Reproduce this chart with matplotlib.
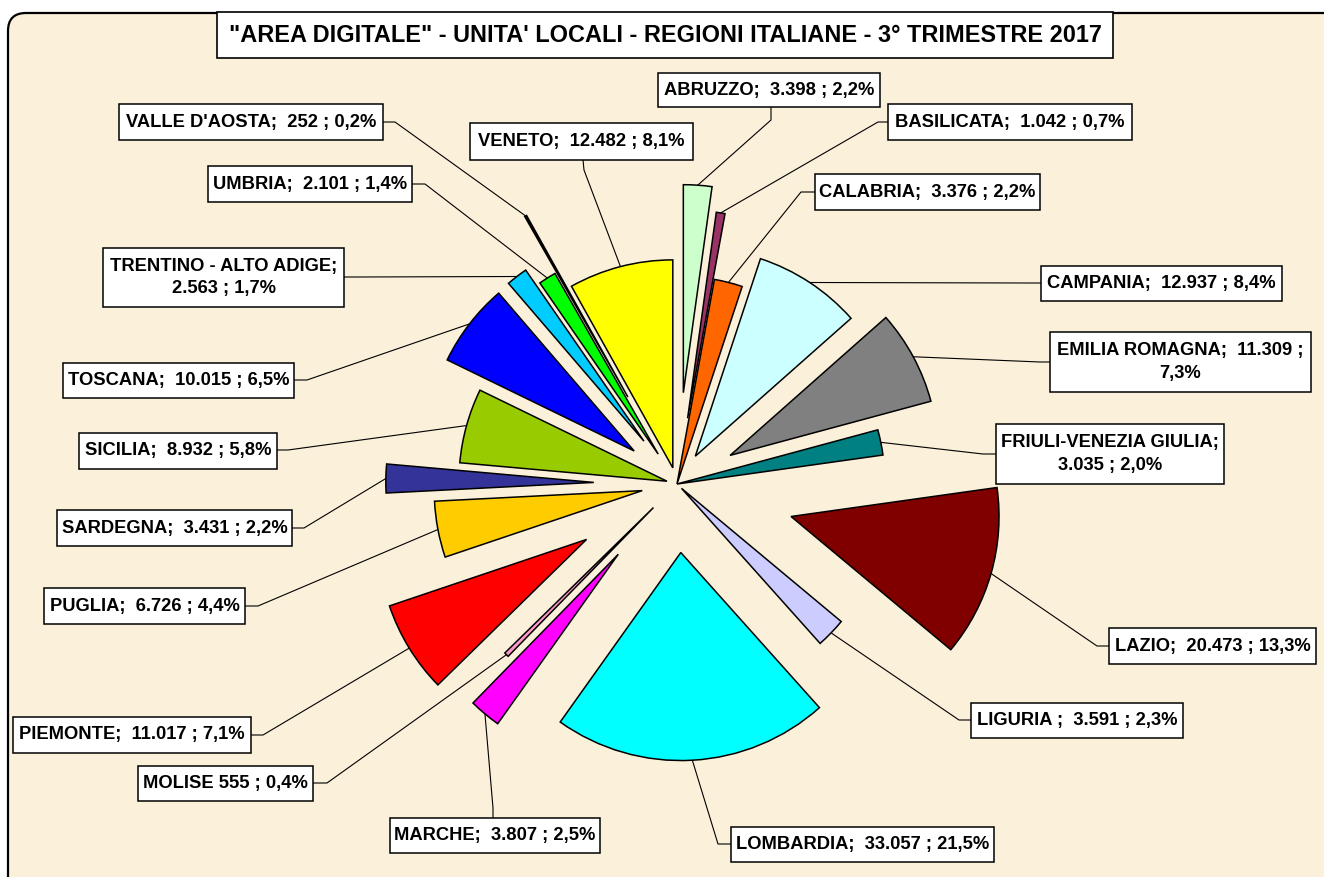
import matplotlib
matplotlib.use("Agg")
import matplotlib.pyplot as plt
from matplotlib.patches import Rectangle, FancyBboxPatch
import numpy as np

# ---------------- data ----------------
regions = ["ABRUZZO", "BASILICATA", "CALABRIA", "CAMPANIA", "EMILIA ROMAGNA",
           "FRIULI-VENEZIA GIULIA", "LAZIO", "LIGURIA", "LOMBARDIA", "MARCHE",
           "MOLISE", "PIEMONTE", "PUGLIA", "SARDEGNA", "SICILIA", "TOSCANA",
           "TRENTINO - ALTO ADIGE", "UMBRIA", "VALLE D'AOSTA", "VENETO"]
values = [3398, 1042, 3376, 12937, 11309, 3035, 20473, 3591, 33057, 3807,
          555, 11017, 6726, 3431, 8932, 10015, 2563, 2101, 252, 12482]
label_texts = [
    "ABRUZZO;  3.398 ; 2,2%",
    "BASILICATA;  1.042 ; 0,7%",
    "CALABRIA;  3.376 ; 2,2%",
    "CAMPANIA;  12.937 ; 8,4%",
    "EMILIA ROMAGNA;  11.309 ;\n7,3%",
    "FRIULI-VENEZIA GIULIA;\n3.035 ; 2,0%",
    "LAZIO;  20.473 ; 13,3%",
    "LIGURIA ;  3.591 ; 2,3%",
    "LOMBARDIA;  33.057 ; 21,5%",
    "MARCHE;  3.807 ; 2,5%",
    "MOLISE 555 ; 0,4%",
    "PIEMONTE;  11.017 ; 7,1%",
    "PUGLIA;  6.726 ; 4,4%",
    "SARDEGNA;  3.431 ; 2,2%",
    "SICILIA;  8.932 ; 5,8%",
    "TOSCANA;  10.015 ; 6,5%",
    "TRENTINO - ALTO ADIGE;\n2.563 ; 1,7%",
    "UMBRIA;  2.101 ; 1,4%",
    "VALLE D'AOSTA;  252 ; 0,2%",
    "VENETO;  12.482 ; 8,1%",
]
title = "\"AREA DIGITALE\" - UNITA' LOCALI - REGIONI ITALIANE - 3° TRIMESTRE 2017"

# ---------------- styles / layout ----------------
colors = ["#CCFFCC", "#993366", "#FF6600", "#CCFFFF", "#808080", "#008080",
          "#800000", "#CCCCFF", "#00FFFF", "#FF00FF", "#FF99CC", "#FF0000",
          "#FFCC00", "#333399", "#99CC00", "#0000FF", "#00CCFF", "#00FF00",
          "#000000", "#FFFF00"]
explode_frac = [0.44, 0.32, 0.0, 0.16, 0.29, 0.0, 0.57, 0.03, 0.33, 0.44,
                0.16, 0.51, 0.17, 0.40, 0.05, 0.26, 0.26, 0.17, 0.48, 0.08]

# label boxes in pixel coords (x0, y0, x1, y1), y measured from top
boxes = [
    (658, 73, 880, 107), (888, 104, 1132, 140), (815, 174, 1040, 210),
    (1041, 266, 1282, 301), (1050, 332, 1311, 392), (996, 424, 1224, 484),
    (1109, 628, 1316, 664), (971, 703, 1183, 738), (731, 827, 994, 862),
    (390, 818, 600, 853), (138, 766, 313, 801), (13, 717, 251, 753),
    (44, 588, 245, 624), (57, 510, 292, 546), (79, 433, 277, 469),
    (63, 363, 294, 398), (103, 248, 344, 307), (208, 166, 412, 202),
    (119, 104, 383, 140), (470, 123, 693, 160)]
# leader lines: (box attach point, elbow point)
leaders = [
    ((771, 107), (771, 120)), ((888, 122), (878, 122)), ((815, 192), (801, 192)),
    ((1041, 283), (1030, 283)), ((1050, 362), (1040, 362)), ((996, 454), (983, 454)),
    ((1109, 646), (1097, 646)), ((971, 720), (959, 720)), ((731, 844), (718, 844)),
    ((493, 818), (493, 808)), ((313, 783), (327, 783)), ((251, 735), (263, 735)),
    ((245, 606), (258, 606)), ((292, 528), (304, 528)), ((277, 450), (288, 450)),
    ((294, 380), (307, 380)), ((344, 277), (358, 277)), ((412, 184), (425, 184)),
    ((383, 122), (395, 122)), ((583, 160), (584, 170))]

W, H = 1324, 877
BG = "#FBF0DA"
FONT = ["Liberation Sans", "DejaVu Sans"]


def Y(y):
    return H - y


fig = plt.figure(figsize=(W / 100, H / 100), dpi=100)
fig.patch.set_facecolor("white")
ax = fig.add_axes([0, 0, 1, 1])

R = 208
center = (677, Y(484))
wedges, _ = ax.pie(values, explode=[f * R for f in explode_frac], radius=R,
                   center=center, startangle=90, counterclock=False,
                   colors=colors,
                   wedgeprops=dict(edgecolor="black", linewidth=1.1, zorder=3))
ax.set_xlim(0, W)
ax.set_ylim(0, H)
ax.set_aspect("equal")
ax.axis("off")

# frame
frame = FancyBboxPatch((8, Y(895)), 1340 - 8, 895 - 13,
                       boxstyle="round,pad=0,rounding_size=18",
                       facecolor=BG, edgecolor="black", linewidth=1.6,
                       zorder=0, clip_on=False)
ax.add_patch(frame)

# title
ax.add_patch(Rectangle((217, Y(58)), 1113 - 217, 58 - 12, facecolor="white",
                       edgecolor="black", linewidth=1.2, zorder=5))
ax.text((217 + 1113) / 2, Y(35), title, ha="center", va="center",
        fontsize=16.9, fontweight="bold", family=FONT, zorder=6)

# labels and leader lines
for w, txt, box, (att, elb) in zip(wedges, label_texts, boxes, leaders):
    x0, y0, x1, y1 = box
    ax.add_patch(Rectangle((x0, Y(y1)), x1 - x0, y1 - y0, facecolor="white",
                           edgecolor="black", linewidth=1.1, zorder=5))
    ax.text((x0 + x1) / 2, Y((y0 + y1) / 2), txt, ha="center", va="center",
            fontsize=13.2, fontweight="bold", family=FONT,
            multialignment="center", linespacing=1.4, zorder=6)
    tm = np.deg2rad((w.theta1 + w.theta2) / 2)
    ax_pt = (w.center[0] + w.r * np.cos(tm), w.center[1] + w.r * np.sin(tm))
    ax.plot([att[0], elb[0], ax_pt[0]], [Y(att[1]), Y(elb[1]), ax_pt[1]],
            color="black", linewidth=0.8, zorder=2)

fig.savefig("out.png", dpi=100, facecolor=fig.get_facecolor())
